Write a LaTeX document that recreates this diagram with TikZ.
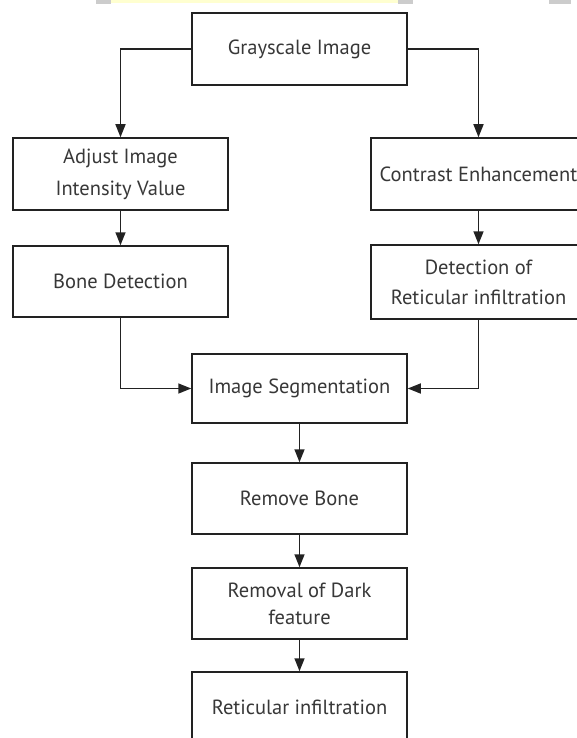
\documentclass[tikz,border=0pt]{standalone}
\usepackage{fontspec}
\setmainfont{PT Sans}
\usetikzlibrary{arrows.meta}
\definecolor{ink}{HTML}{222222}
\definecolor{stampyellow}{HTML}{FFFFD0}
\definecolor{stampgray}{HTML}{CCCCCC}
\begin{document}
\begin{tikzpicture}[x=1pt,y=-1pt,
  stepbox/.style={draw=ink,line width=1.5pt,fill=white,minimum width=215pt,
    inner sep=0pt,align=center,text=ink!90,font=\fontsize{20.5}{30}\selectfont},
  flow/.style={draw=ink,line width=1.5pt,-{Triangle[length=13pt,width=10pt]}}]
\useasboundingbox (0,0) rectangle (577,738);
\fill[white] (0,0) rectangle (577,738);
% strip along the top edge
\fill[stampgray] (96,0) rectangle (111,4);
\fill[stampyellow] (111,0) rectangle (398,3);
\fill[stampgray] (398,0) rectangle (413,4);
\fill[stampgray] (549,0) rectangle (571,4);

\node[stepbox,minimum height=72pt] (gray) at (299.5,49) {Grayscale Image};
\node[stepbox,minimum height=72pt,font=\fontsize{20.5}{32}\selectfont] (adj) at (120.5,174) {Adjust Image\\Intensity Value};
\node[stepbox,minimum height=71pt] (bone) at (120.5,281.5) {Bone Detection};
\node[stepbox,minimum height=72pt] (con) at (478.5,174) {Contrast Enhancement};
\node[stepbox,minimum height=74pt] (det) at (478.5,282) {Detection of\\Reticular infiltration};
\node[stepbox,minimum height=69pt] (seg) at (299.5,388.5) {Image Segmentation};
\node[stepbox,minimum height=71pt] (rb) at (299.5,498.5) {Remove Bone};
\node[stepbox,minimum height=71pt,font=\fontsize{20.5}{27}\selectfont] (rd) at (299.5,603.5) {Removal of Dark\\feature};
\node[stepbox,minimum height=71pt] (ret) at (299.5,707.5) {Reticular infiltration};

\draw[flow] (gray.west) -| (adj.north);
\draw[flow] (gray.east) -| (con.north);
\draw[flow] (adj) -- (bone);
\draw[flow] (con) -- (det);
\draw[flow] (bone.south) |- (seg.west);
\draw[flow] (det.south) |- (seg.east);
\draw[flow] (seg) -- (rb);
\draw[flow] (rb) -- (rd);
\draw[flow] (rd) -- (ret);
\end{tikzpicture}
\end{document}
